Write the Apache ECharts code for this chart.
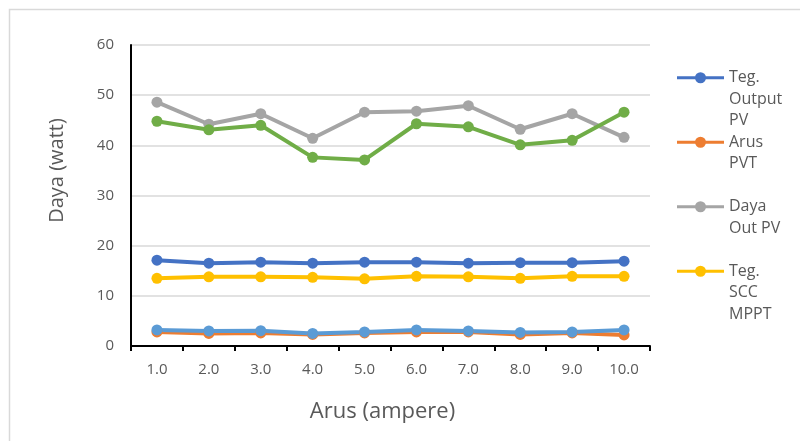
<!DOCTYPE html>
<html>
<head>
<meta charset="utf-8">
<style>
  html, body { margin: 0; padding: 0; background: #ffffff; }
  #chart { width: 800px; height: 441px; }
</style>
<script src="https://cdn.jsdelivr.net/npm/echarts@6/dist/echarts.min.js"></script>
</head>
<body>
<div id="chart"></div>
<script>
// Arus (ampere) on the category axis
const categories = ['1.0', '2.0', '3.0', '4.0', '5.0', '6.0', '7.0', '8.0', '9.0', '10.0'];

// Series values (watt)
const tegOutputPV = [17.1, 16.5, 16.7, 16.5, 16.7, 16.7, 16.5, 16.6, 16.6, 16.9];
const arusPVT     = [2.8, 2.5, 2.6, 2.3, 2.6, 2.8, 2.8, 2.3, 2.6, 2.2];
const dayaOutPV   = [48.6, 44.2, 46.3, 41.4, 46.6, 46.8, 47.9, 43.2, 46.3, 41.6];
const tegSCCMPPT  = [13.5, 13.8, 13.8, 13.7, 13.4, 13.9, 13.8, 13.5, 13.9, 13.9];
const dayaOutPVT  = [44.8, 43.1, 44.0, 37.6, 37.1, 44.3, 43.7, 40.1, 41.0, 46.6];
const arusPV      = [3.2, 3.0, 3.05, 2.5, 2.8, 3.2, 3.0, 2.7, 2.8, 3.2];

// Y axis range
const yMin = 0, yMax = 60, yStep = 10;

const FONT = 'Open Sans';
const TEXT = '#595959';
const LH = 21.5;            // legend line height
const ICON_W = 47;          // legend icon width
const ICON_H = 3 * LH;      // each legend entry spans three text lines

// Legend icon: line with a dot, sitting on the first text line of the entry.
// Two hairline anchors pin the path's bounds to the full icon box.
function legendIconPath() {
  const cy = LH / 2, r = 5.5, cx = ICON_W / 2, t = 1.5;
  return 'path://' +
    'M0,0 L0.01,0 L0,0.01 Z ' +
    `M${ICON_W},${ICON_H} L${ICON_W - 0.01},${ICON_H} L${ICON_W},${ICON_H - 0.01} Z ` +
    `M0,${cy - t} L${cx - r + 1},${cy - t} L${cx - r + 1},${cy + t} L0,${cy + t} Z ` +
    `M${cx + r - 1},${cy - t} L${ICON_W},${cy - t} L${ICON_W},${cy + t} L${cx + r - 1},${cy + t} Z ` +
    `M${cx - r},${cy} A${r},${r} 0 1,1 ${cx + r},${cy} A${r},${r} 0 1,1 ${cx - r},${cy} Z`;
}

const seriesDefs = [
  { name: 'Teg.\nOutput\nPV',   data: tegOutputPV, color: '#4472C4' },
  { name: 'Arus\nPVT\n ',       data: arusPVT,     color: '#ED7D31' },
  { name: 'Daya\nOut PV\n ',    data: dayaOutPV,   color: '#A5A5A5' },
  { name: 'Teg.\nSCC\nMPPT',    data: tegSCCMPPT,  color: '#FFC000' },
  { name: 'Daya Out PVT',       data: dayaOutPVT,  color: '#70AD47' },
  { name: 'Arus PV',            data: arusPV,      color: '#5B9BD5' }
];

const chart = echarts.init(document.getElementById('chart'), null, { renderer: 'canvas' });

chart.setOption({
  animation: false,
  backgroundColor: '#ffffff',
  textStyle: { fontFamily: FONT },
  graphic: [{
    type: 'rect',
    silent: true,
    z: -10,
    shape: { x: 9.5, y: 9.5, width: 820, height: 500 },
    style: { fill: 'none', stroke: '#D9D9D9', lineWidth: 1.5 }
  }],
  grid: { left: 131, right: 150, top: 45, bottom: 95, containLabel: false },
  legend: {
    orient: 'vertical',
    left: 677,
    top: 67,
    padding: 0,
    itemGap: 0,
    itemWidth: ICON_W,
    itemHeight: ICON_H,
    symbolKeepAspect: false,
    icon: legendIconPath(),
    itemStyle: { borderWidth: 0 },
    data: seriesDefs.slice(0, 4).map(s => s.name),
    textStyle: {
      color: TEXT,
      fontSize: 16,
      fontFamily: FONT,
      lineHeight: LH
    }
  },
  xAxis: {
    type: 'category',
    data: categories,
    boundaryGap: true,
    name: 'Arus (ampere)',
    nameLocation: 'middle',
    nameGap: 55,
    nameTextStyle: { color: TEXT, fontSize: 22, fontFamily: FONT, padding: [0, 16, 0, 0] },
    axisLine: { show: true, lineStyle: { color: '#000000', width: 2 } },
    axisTick: { show: true, inside: false, length: 5, interval: 0, lineStyle: { color: '#000000', width: 2 } },
    axisLabel: { color: TEXT, fontSize: 15, fontFamily: FONT, margin: 16, interval: 0 },
    splitLine: { show: false }
  },
  yAxis: {
    type: 'value',
    min: yMin,
    max: yMax,
    interval: yStep,
    name: 'Daya (watt)',
    nameLocation: 'middle',
    nameGap: 64,
    nameTextStyle: { color: TEXT, fontSize: 20, fontFamily: FONT, padding: [0, 0, 0, 50] },
    axisLine: { show: true, lineStyle: { color: '#000000', width: 2 } },
    axisTick: { show: false },
    axisLabel: { color: TEXT, fontSize: 15, fontFamily: FONT, margin: 17 },
    splitLine: { show: true, lineStyle: { color: '#D9D9D9', width: 1.5 } }
  },
  series: seriesDefs.map(s => ({
    name: s.name,
    type: 'line',
    data: s.data,
    symbol: 'circle',
    symbolSize: 11,
    showSymbol: true,
    lineStyle: { color: s.color, width: 4 },
    itemStyle: { color: s.color },
    emphasis: { disabled: true }
  }))
});
</script>
</body>
</html>
